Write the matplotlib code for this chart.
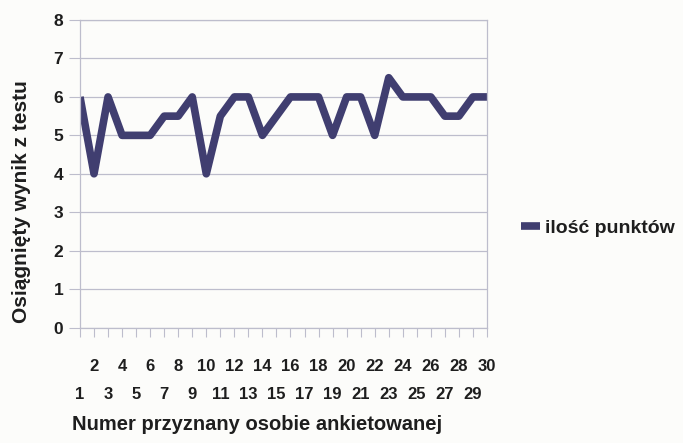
import matplotlib
matplotlib.use("Agg")
import matplotlib.pyplot as plt

# Test score for each surveyed person
respondents = list(range(1, 31))
points = [6, 4, 6, 5, 5, 5, 5.5, 5.5, 6, 4,
          5.5, 6, 6, 5, 5.5, 6, 6, 6, 5, 6,
          6, 5, 6.5, 6, 6, 6, 5.5, 5.5, 6, 6]
y_ticks = [0, 1, 2, 3, 4, 5, 6, 7, 8]

series_label = "ilość punktów"
x_title = "Numer przyznany osobie ankietowanej"
y_title = "Osiągnięty wynik z testu"

line_color = "#403e70"
grid_color = "#bdbdcc"
text_color = "#1e1e1e"

plt.rcParams["font.family"] = ["Liberation Sans", "DejaVu Sans"]

fig = plt.figure(figsize=(6.83, 4.43), dpi=100, facecolor="#fcfcfa")
ax = fig.add_axes([0.1171, 0.2607, 0.5959, 0.694])
ax.set_facecolor("#fcfcfa")

line, = ax.plot(respondents, points, color=line_color, lw=5.5,
                solid_joinstyle="round", solid_capstyle="butt")

ax.set_xlim(1, 30)
ax.set_ylim(0, 8)
ax.set_yticks(y_ticks)
ax.set_yticklabels([str(v) for v in y_ticks], fontsize=12.5,
                   fontweight="bold", color=text_color)
ax.yaxis.grid(True, color=grid_color, lw=0.9)
ax.set_axisbelow(True)

# Category labels alternate between two rows
evens = [r for r in respondents if r % 2 == 0]
odds = [r for r in respondents if r % 2 == 1]
ax.set_xticks(evens)
ax.set_xticklabels([str(r) for r in evens], fontsize=12, fontweight="bold",
                   color=text_color)
ax.set_xticks(odds, minor=True)
ax.set_xticklabels([str(r) for r in odds], minor=True, fontsize=12,
                   fontweight="bold", color=text_color)
ax.tick_params(axis="x", which="major", length=6.5, width=0.8,
               color=grid_color, pad=16.5)
ax.tick_params(axis="x", which="minor", length=6.5, width=0.8,
               color=grid_color, pad=36)
ax.tick_params(axis="y", length=8, width=0.8, color=grid_color, pad=4)

for side in ["left", "right", "top", "bottom"]:
    ax.spines[side].set_color(grid_color)
    ax.spines[side].set_linewidth(0.9)

fig.text(0.377, 0.03, x_title, fontsize=14.5, fontweight="bold",
         color=text_color, ha="center", va="baseline")
fig.text(0.032, 0.544, y_title, fontsize=15, fontweight="bold",
         color=text_color, ha="center", va="center", rotation=90)

leg = fig.legend([line], [series_label], loc="center left",
                 bbox_to_anchor=(0.737, 0.485), frameon=False,
                 handlelength=1.0, handletextpad=0.25,
                 prop={"family": ["Liberation Sans", "DejaVu Sans"],
                       "size": 14, "weight": "bold"})
for t in leg.get_texts():
    t.set_color(text_color)

fig.savefig("out.png", dpi=100, facecolor=fig.get_facecolor())
